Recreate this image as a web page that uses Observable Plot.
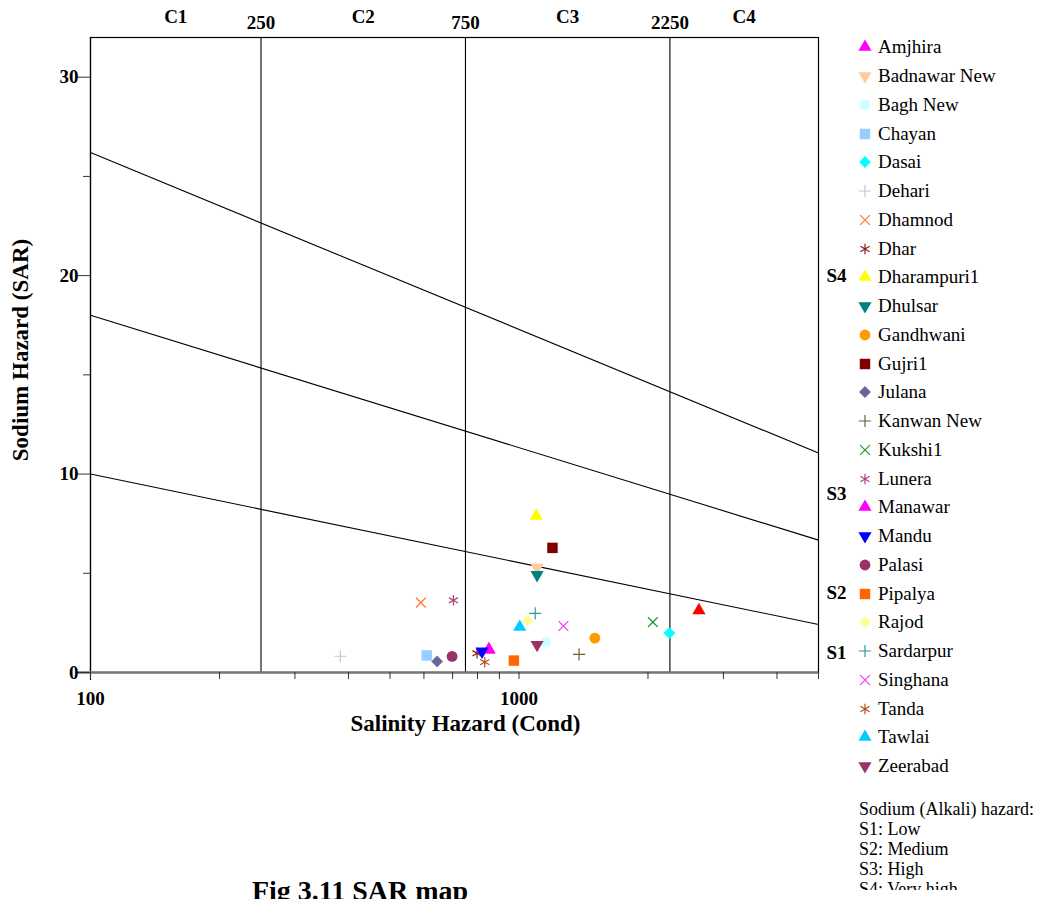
<!DOCTYPE html>
<html>
<head>
<meta charset="utf-8">
<script src="https://cdn.jsdelivr.net/npm/d3@7"></script>
<script src="https://cdn.jsdelivr.net/npm/@observablehq/plot@0.6"></script>
<style>
  body { margin: 0; background: #fff; width: 1050px; height: 899px; overflow: hidden; position: relative;
         font-family: 'Liberation Serif', 'Times New Roman', serif; color: #000; }
  #chart { position: absolute; left: 0; top: 0; }
  #legend { position: absolute; left: 854px; top: 33px; width: 196px; height: 857px; overflow: hidden; }
  .row { height: 28.75px; display: flex; align-items: center; font-size: 19px; white-space: nowrap; }
  .row svg { width: 22px; height: 22px; margin-right: 2px; flex: none; }
  #note { margin-top: 18.5px; padding-left: 5px; font-size: 18px; line-height: 20px; white-space: nowrap; }
  #caption { position: absolute; left: 0; width: 720px; top: 877px; text-align: center; font-weight: bold;
             font-size: 28px; line-height: 28px; white-space: nowrap; }
</style>
</head>
<body>
<div id="chart"></div>
<div id="legend"></div>
<div id="caption">Fig 3.11 SAR map</div>
<script>
// ---------------- data ----------------
const stations = ["Amjhira","Badnawar New","Bagh New","Chayan","Dasai","Dehari","Dhamnod","Dhar","Dharampuri1","Dhulsar",
  "Gandhwani","Gujri1","Julana","Kanwan New","Kukshi1","Lunera","Manawar","Mandu","Palasi","Pipalya",
  "Rajod","Sardarpur","Singhana","Tanda","Tawlai","Zeerabad"];
const conductivity = [850, 1102, 1153, 609, 2244, 383, 590, 798, 1097, 1102,
  1503, 1197, 644, 1381, 2053, 703, 851, 820, 698, 973,
  1048, 1091, 1270, 832, 1004, 1102];
const sarValues = [1.15, 5.29, 1.53, 0.86, 1.99, 0.82, 3.52, 0.97, 7.89, 4.92,
  1.73, 6.28, 0.56, 0.91, 2.54, 3.64, 1.15, 1.07, 0.81, 0.60,
  2.61, 2.98, 2.34, 0.52, 2.29, 1.40];
const palette = ["#ff00ff","#ffcc99","#ccffff","#99ccff","#00ffff","#c8c8c8","#ff7733","#8b1a1a","#ffff00","#008080",
  "#ff9900","#800000","#666699","#666633","#229922","#aa4477","#ff00ff","#0000ff","#993366","#ff6600",
  "#ffff99","#339999","#ff33ff","#b0501e","#00ccff","#993366"];
const symbolKinds = ["triangle","triangleDown","circle","square","diamond","plus","times","asterisk","triangle","triangleDown",
  "circle","square","diamond","plus","times","asterisk","triangle","triangleDown","circle","square",
  "diamond","plus","times","asterisk","triangle","triangleDown"];

// point not listed in the legend
const unlistedCond = [2630];
const unlistedSar = [3.13];

// classification
const salinityBounds = [250, 750, 2250];
const salinityEdges = [100, 250, 750, 2250, 5000];
const salinityClasses = ["C1","C2","C3","C4"];
const sodiumClasses = ["S1","S2","S3","S4"];
const sodiumLabelSar = [1, 4, 9, 20];
const boundaryStartCond = [100, 100, 100];
const boundaryStartSar = [10, 18, 26.2];
const boundaryEndCond = [5000, 5000, 5000];
const boundaryEndSar = [2.42, 6.67, 11.06];

const yMajorTicks = [0, 10, 20, 30];
const yMinorTicks = [5, 15, 25];
const xMajorTicks = [100, 1000];
const xMinorTicks = [200, 300, 400, 500, 600, 700, 800, 900, 2000, 3000, 4000, 5000];
const noteLines = ["Sodium (Alkali) hazard:", "S1: Low", "S2: Medium", "S3: High", "S4: Very high"];

// ---------------- build ----------------
const triangleDown = {
  draw(ctx, size) {
    const s3 = Math.sqrt(3);
    const y = -Math.sqrt(size / (s3 * 3));
    ctx.moveTo(0, -y * 2);
    ctx.lineTo(-s3 * y, y);
    ctx.lineTo(s3 * y, y);
    ctx.closePath();
  }
};
const kindSpec = {
  triangle:     {symbol: "triangle", d3: d3.symbolTriangle, r: 4.9, filled: true},
  triangleDown: {symbol: triangleDown, d3: triangleDown, r: 4.9, filled: true},
  circle:       {symbol: "circle", d3: d3.symbolCircle, r: 5.4, filled: true},
  square:       {symbol: "square", d3: d3.symbolSquare, r: 5.9, filled: true},
  diamond:      {symbol: "diamond2", d3: d3.symbolDiamond2, r: 5.3, filled: true},
  plus:         {symbol: "plus", d3: d3.symbolPlus, r: 4.0, filled: false},
  times:        {symbol: "times", d3: d3.symbolTimes, r: 4.5, filled: false},
  asterisk:     {symbol: "asterisk", d3: d3.symbolAsterisk, r: 5.0, filled: false}
};

const rows = stations.map((s, i) => ({station: s, cond: conductivity[i], sar: sarValues[i], kind: symbolKinds[i]}));
const unlisted = unlistedCond.map((c, i) => ({cond: c, sar: unlistedSar[i]}));
const boundaries = boundaryStartCond.map((c, i) => ({x1: c, y1: boundaryStartSar[i], x2: boundaryEndCond[i], y2: boundaryEndSar[i]}));
const classLabels = salinityClasses.map((c, i) => ({label: c, cond: Math.sqrt(salinityEdges[i] * salinityEdges[i + 1])}));
const sodiumLabels = sodiumClasses.map((s, i) => ({label: s, sar: sodiumLabelSar[i]}));

const pointMarks = rows.map(d => {
  const k = kindSpec[d.kind];
  return Plot.dot([d], {
    x: "cond", y: "sar", symbol: k.symbol, r: k.r,
    fill: k.filled ? "station" : "none",
    stroke: k.filled ? "none" : "station",
    strokeWidth: 1.2
  });
});

const chart = Plot.plot({
  width: 860, height: 740,
  marginLeft: 90, marginRight: 42, marginTop: 37, marginBottom: 68,
  x: {type: "log", domain: [100, 5000], axis: null},
  y: {domain: [0, 32], axis: null},
  color: {domain: stations, range: palette},
  style: {fontFamily: "'Liberation Serif', 'Times New Roman', serif", fontSize: "19px", color: "#000",
          background: "transparent", overflow: "visible"},
  marks: [
    Plot.frame({stroke: "#000", strokeWidth: 1.2}),
    Plot.ruleX([100], {stroke: "#000", strokeWidth: 1.2, insetBottom: -8}),
    Plot.ruleX(salinityBounds, {stroke: "#000", strokeWidth: 1.1}),
    Plot.link(boundaries, {x1: "x1", y1: "y1", x2: "x2", y2: "y2", stroke: "#000", strokeWidth: 1.1}),
    Plot.ruleY([0], {stroke: "#777", strokeWidth: 2.6, insetLeft: -14}),
    Plot.axisY(yMajorTicks, {anchor: "left", tickSize: 14, tickPadding: -2, fontSize: 19, fontWeight: "bold", label: null, stroke: "#333"}),
    Plot.axisY(yMinorTicks, {anchor: "left", tickSize: 7, tickFormat: () => "", label: null, stroke: "#333"}),
    Plot.axisX(xMajorTicks, {anchor: "bottom", tickSize: 7, tickPadding: 12, fontSize: 19, fontWeight: "bold", tickFormat: d => String(d), label: null, stroke: "#333"}),
    Plot.axisX(xMinorTicks, {anchor: "bottom", tickSize: 7, tickFormat: () => "", label: null, stroke: "#333"}),
    Plot.text(classLabels, {x: "cond", text: "label", frameAnchor: "top", lineAnchor: "middle", dy: -21, fontWeight: "bold", fontSize: 19}),
    Plot.text(salinityBounds, {x: d => d, text: d => String(d), frameAnchor: "top", lineAnchor: "middle", dy: -15, fontWeight: "bold", fontSize: 19}),
    Plot.text(sodiumLabels, {y: "sar", text: "label", frameAnchor: "right", textAnchor: "start", dx: 8, fontWeight: "bold", fontSize: 19}),
    Plot.text(["Salinity Hazard (Cond)"], {frameAnchor: "bottom", lineAnchor: "middle", textAnchor: "middle", dx: 11, dy: 51, fontWeight: "bold", fontSize: 23}),
    Plot.text(["Sodium Hazard (SAR)"], {frameAnchor: "left", textAnchor: "middle", lineAnchor: "middle", rotate: -90, dx: -70, dy: -5, fontWeight: "bold", fontSize: 23}),
    ...pointMarks,
    Plot.dot(unlisted, {x: "cond", y: "sar", symbol: "triangle", r: 4.9, fill: "#ff0000"})
  ]
});
document.getElementById("chart").appendChild(chart);

// ---------------- legend ----------------
const legend = document.getElementById("legend");
rows.forEach((d, i) => {
  const k = kindSpec[d.kind];
  const row = document.createElement("div");
  row.className = "row";
  const path = d3.symbol(k.d3, Math.PI * k.r * k.r)();
  const col = palette[i];
  row.innerHTML = `<svg viewBox="-11 -11 22 22"><path d="${path}" fill="${k.filled ? col : "none"}" stroke="${k.filled ? "none" : col}" stroke-width="1.2"/></svg><span>${d.station}</span>`;
  legend.appendChild(row);
});
const note = document.createElement("div");
note.id = "note";
note.innerHTML = noteLines.map(t => `<div>${t}</div>`).join("");
legend.appendChild(note);
</script>
</body>
</html>
